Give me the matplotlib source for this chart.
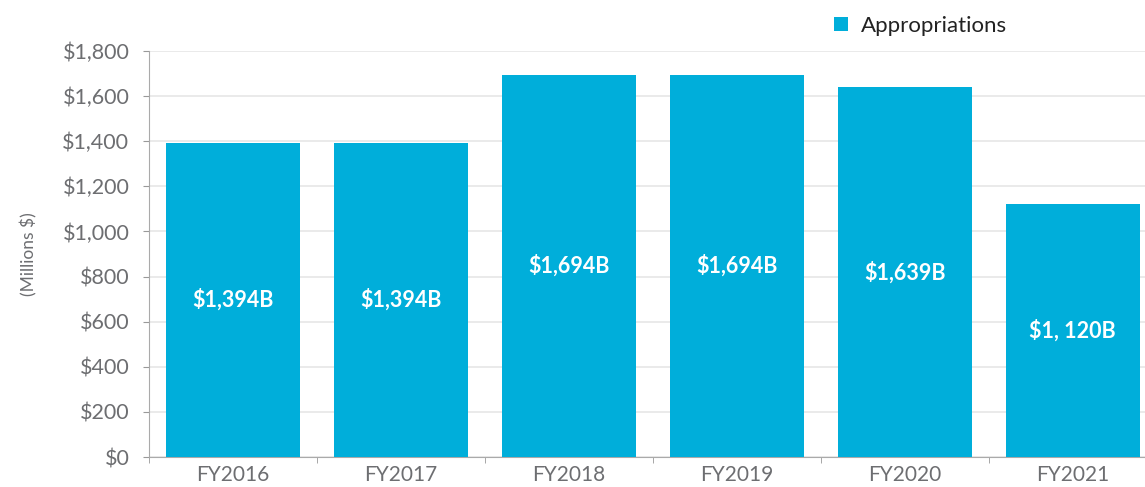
import matplotlib.pyplot as plt
from matplotlib.ticker import FuncFormatter, FixedLocator

years = ["FY2016", "FY2017", "FY2018", "FY2019", "FY2020", "FY2021"]
values = [1394, 1394, 1694, 1694, 1639, 1120]
labels = ["$1,394B", "$1,394B", "$1,694B", "$1,694B", "$1,639B", "$1, 120B"]

plt.rcParams['font.family'] = ['Lato', 'DejaVu Sans']
blue = "#00AEDA"
grey = "#6d6e71"

fig = plt.figure(figsize=(11.45, 4.87), dpi=100)
ax = fig.add_axes([0.130, 0.0616, 0.870, 0.8337])

x = range(len(years))
bars = ax.bar(x, values, width=0.8, color=blue, label="Appropriations", zorder=3)

for i, v in enumerate(values):
    ax.text(i, v / 2, labels[i], ha="center", va="center", color="white",
            fontsize=15.5, fontweight="bold", zorder=4)

ax.set_xlim(-0.5, 5.43)
ax.set_ylim(0, 1800)
ax.set_yticks(range(0, 1801, 200))
ax.yaxis.set_major_formatter(FuncFormatter(lambda v, p: "${:,.0f}".format(v)))
ax.set_xticks(list(x))
ax.set_xticklabels(years)
ax.xaxis.set_minor_locator(FixedLocator([i - 0.5 for i in range(len(years) + 1)]))
ax.tick_params(axis="x", which="major", length=0, pad=6, labelsize=15, labelcolor=grey)
ax.tick_params(axis="x", which="minor", length=4, color="#999999")
ax.tick_params(axis="y", length=4, color="#999999", labelsize=15.5, labelcolor=grey, pad=10)

ax.grid(axis="y", color="#e6e6e6", linewidth=1.2, zorder=0)
for s in ["top", "right"]:
    ax.spines[s].set_visible(False)
for s in ["left", "bottom"]:
    ax.spines[s].set_color("#aaaaaa")

ax.set_ylabel("(Millions $)", fontsize=12.5, color=grey)
ax.yaxis.set_label_coords(-0.112, 0.5)

ax.legend(loc="upper left", bbox_to_anchor=(0.668, 1.135), frameon=False,
          fontsize=16, handlelength=0.6, handleheight=0.6, handletextpad=0.6,
          labelcolor="#222222")

fig.savefig("out.png", dpi=100)
